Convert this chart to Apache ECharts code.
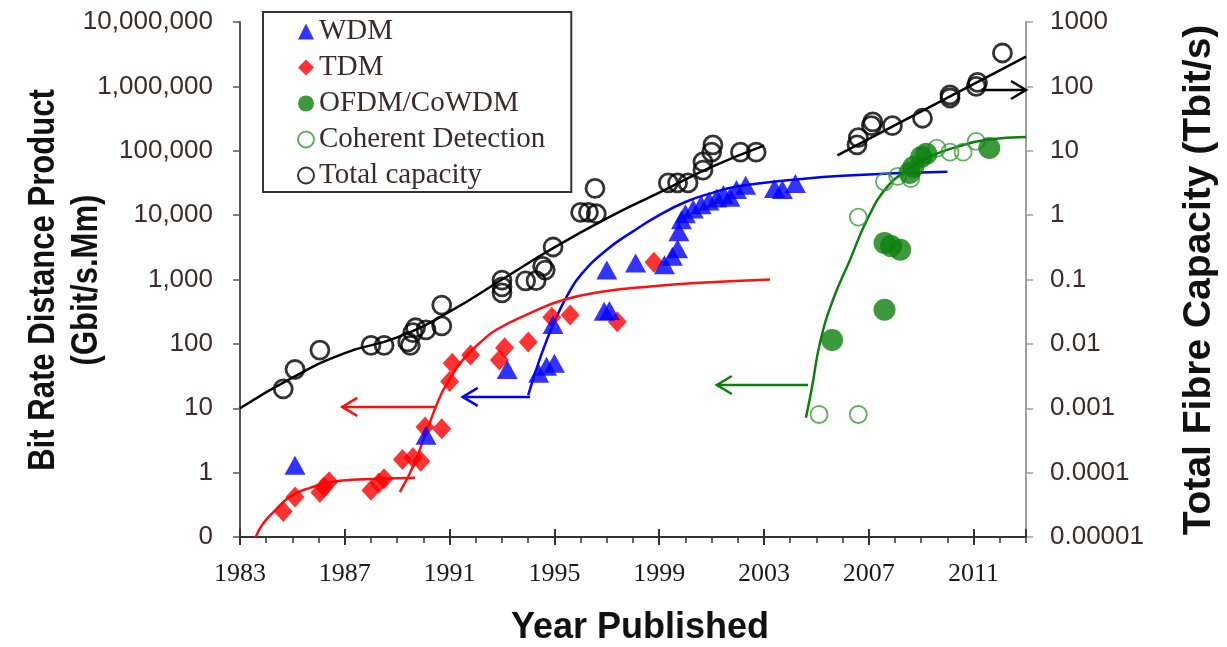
<!DOCTYPE html>
<html><head><meta charset="utf-8">
<script src="https://cdn.jsdelivr.net/npm/echarts@6/dist/echarts.min.js"></script>
<style>html,body{margin:0;padding:0;background:#fff}#chart{width:1227px;height:647px}</style>
</head><body><div id="chart"></div>
<script>
// ---- tick labels ----
const xTickLabels = ['1983','1987','1991','1995','1999','2003','2007','2011'];
const leftTickLabels = ['0','1','10','100','1,000','10,000','100,000','1,000,000','10,000,000'];
const rightTickLabels = ['0.00001','0.0001','0.001','0.01','0.1','1','10','100','1000'];

// ---- data: [year, Gbit/s.Mm] (left axis) ----
const wdm = [[1985.1,1.3],[1990.1,3.8],[1993.2,40],[1994.4,35],[1994.7,45],[1995.0,50],[1994.95,200],
  [1996.9,320],[1997.1,330],[1997.0,1400],[1998.1,1800],[1999.2,1700],[1999.5,2300],[1999.7,3000],
  [1999.75,5500],[1999.85,8500],[2000.0,10500],[2000.3,12500],[2000.6,14500],[2000.9,16500],
  [2001.2,18500],[2001.45,21000],[2001.7,19000],[2001.95,25000],[2002.3,29000],[2003.4,26000],
  [2003.7,25000],[2004.2,31000]];
const tdm = [[1984.65,0.25],[1985.1,0.42],[1986.05,0.49],[1986.2,0.6],[1986.4,0.72],[1988.0,0.53],
  [1988.3,0.69],[1988.5,0.8],[1989.2,1.6],[1989.6,1.7],[1989.9,1.5],[1990.06,5.1],[1990.7,4.8],
  [1991.0,26],[1991.1,50],[1991.8,67],[1992.9,56],[1993.1,87],[1994.0,107],[1994.9,260],
  [1995.6,280],[1997.4,220],[1998.8,1850]];
const ofdm = [[2005.6,115],[2007.6,340],[2007.6,3700],[2007.85,3300],[2008.2,2900],[2008.55,45000],
  [2008.7,56000],[2009.0,80000],[2009.2,90000],[2011.6,110000]];
const coherent = [[2005.1,8],[2006.6,8],[2006.6,9300],[2007.6,33000],[2008.1,40000],[2008.6,37000],
  [2009.6,110000],[2010.1,95000],[2010.6,95000],[2011.1,140000]];
const totalLeft = [[1984.65,20],[1985.1,40],[1986.05,80],[1988.0,95],[1988.5,95],[1989.4,107],
  [1989.5,95],[1989.7,178],[1989.6,150],[1990.1,165],[1990.7,190],[1990.7,400],[1993.0,620],
  [1993.0,770],[1993.0,980],[1993.9,950],[1994.3,960],[1994.55,1600],[1994.65,1400],[1994.95,3200],
  [1996.0,11000],[1996.3,11000],[1996.6,10500],[1996.55,26000],[1999.35,31600],[1999.7,31600],
  [2000.1,31600],[2000.67,50000],[2000.67,67000],[2001.0,95000],[2001.05,123000],[2002.1,95000],
  [2002.7,95000]];
// ---- data: [year, Tbit/s] (right axis) ----
const totalRight = [[2006.55,12.3],[2006.6,16],[2007.1,24.5],[2007.15,28],[2007.9,24.5],[2009.05,32],
  [2010.1,66],[2010.1,74],[2011.1,100],[2011.15,115],[2012.1,330]];

// ---- trend lines ----
const totalFitLeft = [[1983,10],[1985,30],[1987,72],[1989,126],[1991,316],[1993,1000],[1995,3160],
  [1997,8900],[1999,22400],[2001,56000],[2003,120000]];
const totalFitRight = [[2005.8,8.5],[2013.0,290]];
const wdmFit = [[1994.0,16],[1994.5,68],[1995.0,220],[1995.5,570],[1996,1170],[1997,2900],[1998,5600],
  [1999,10000],[2000,16000],[2001,22000],[2002,28000],[2004,35000],[2006,41000],[2010,47000]];
const tdmFit1 = [[1983.6,0.1],[1983.85,0.155],[1984.26,0.24],[1984.9,0.42],[1985.67,0.58],[1986.8,0.75],
  [1988.34,0.8],[1989.68,0.83]];
const tdmFit2 = [[1989.1,0.5],[1989.6,1.23],[1990.14,4.6],[1990.63,15],[1991.0,28],[1991.5,56],
  [1992.16,104],[1992.8,167],[1994.07,300],[1995.33,480],[1996.74,640],[1998.65,780],[2000.56,890],[2003.23,1000]];
const ofdmFit = [[2004.6,7.1],[2004.83,21],[2005.14,105],[2005.63,480],[2006.28,2000],[2006.93,8400],
  [2007.7,27500],[2008.46,50000],[2009.3,80000],[2010.37,115000],[2011.5,148000],[2013.0,163000]];
// arrows: [fromYear, toYear, value]
const redArrow = [1990.45, 1986.9, 10.5];
const blueArrow = [1994.07, 1991.5, 15];
const greenArrow = [2004.68, 2001.2, 23];
const blackArrow = [2011.3, 2013.0, 88];

const SANS = '"Liberation Sans", Arial, sans-serif';
const SERIF = '"Liberation Serif", "Times New Roman", serif';

function renderArrow(params, api) {
  const p1 = api.coord([api.value(0), api.value(2)]);
  const p2 = api.coord([api.value(1), api.value(2)]);
  const dir = p2[0] > p1[0] ? 1 : -1;
  const hl = 15, hw = 9;
  const color = api.visual('color');
  return {type:'group', children:[
    {type:'line', shape:{x1:p1[0],y1:p1[1],x2:p2[0],y2:p2[1]}, style:{stroke:color,lineWidth:2.5}},
    {type:'polyline', shape:{points:[[p2[0]-dir*hl,p2[1]-hw],[p2[0],p2[1]],[p2[0]-dir*hl,p2[1]+hw]]},
      style:{stroke:color,lineWidth:2.5,fill:null}}
  ]};
}

function fitLine(name, data, color, yIdx) {
  return {name:name, type:'line', data:data, yAxisIndex:yIdx||0, smooth:true, symbol:'none',
    lineStyle:{color:color, width:2.5}, itemStyle:{color:color}, z:2, silent:true};
}

const chart = echarts.init(document.getElementById('chart'), null, {renderer:'canvas'});
const xBase = {type:'value', min:1983, max:2013, position:'bottom', splitLine:{show:false}};
chart.setOption({
  animation:false,
  backgroundColor:'#fff',
  grid:{left:240, right:201, top:22, bottom:110, containLabel:false},
  xAxis:[
    Object.assign({}, xBase, {interval:4,
      axisLine:{show:true, lineStyle:{color:'#333', width:2}},
      axisTick:{show:true, length:8, lineStyle:{color:'#333', width:2}},
      axisLabel:{show:true, margin:24, fontFamily:SERIF, fontSize:26, color:'#1a1a1a', showMaxLabel:false,
        formatter:function(v){const s=String(Math.round(v));return xTickLabels.indexOf(s)>=0?s:'';}}}),
    Object.assign({}, xBase, {interval:1, axisLine:{show:false}, axisLabel:{show:false},
      axisTick:{show:true, length:6, lineStyle:{color:'#333', width:1.5}}}),
    Object.assign({}, xBase, {interval:4, axisLine:{show:false}, axisLabel:{show:false},
      axisTick:{show:true, inside:true, length:8, lineStyle:{color:'#333', width:2}}})
  ],
  yAxis:[
    {type:'log', logBase:10, min:0.1, max:1e7, splitNumber:8, position:'left', splitLine:{show:false},
      axisLine:{show:true, lineStyle:{color:'#555', width:2}},
      axisTick:{show:true, length:7, lineStyle:{color:'#555', width:1.5}},
      axisLabel:{margin:27, fontFamily:SANS, fontSize:26, color:'#3a2c2c',
        formatter:function(v){return leftTickLabels[Math.round(Math.log10(v))+1] || '';}}},
    {type:'log', logBase:10, min:1e-5, max:1000, splitNumber:8, position:'right', splitLine:{show:false},
      axisLine:{show:true, lineStyle:{color:'#a0a0a0', width:2}},
      axisTick:{show:true, length:7, lineStyle:{color:'#a0a0a0', width:1.5}},
      axisLabel:{margin:24, fontFamily:SANS, fontSize:26, color:'#3a2c2c',
        formatter:function(v){return rightTickLabels[Math.round(Math.log10(v))+5] || '';}}}
  ],
  legend:{
    data:['WDM','TDM','OFDM/CoWDM','Coherent Detection','Total capacity'],
    orient:'vertical', left:263, top:12, itemGap:7, itemWidth:16, itemHeight:16,
    padding:[5,26,2,34], borderColor:'#333', borderWidth:2, backgroundColor:'#fff',
    textStyle:{fontFamily:SERIF, fontSize:29, color:'#3b2b2b'}, selectedMode:false
  },
  graphic:[
    {type:'text', x:44, y:280, rotation:Math.PI/2, scaleX:0.84, z:10,
      style:{text:'Bit Rate Distance Product', font:'bold 37px '+SANS, fill:'#111',
        align:'center', verticalAlign:'middle', textAlign:'center', textVerticalAlign:'middle'}},
    {type:'text', x:87, y:280, rotation:Math.PI/2, scaleX:0.84, z:10,
      style:{text:'(Gbit/s.Mm)', font:'bold 37px '+SANS, fill:'#111',
        align:'center', verticalAlign:'middle', textAlign:'center', textVerticalAlign:'middle'}},
    {type:'text', x:1199, y:280, rotation:Math.PI/2, z:10,
      style:{text:'Total Fibre Capacity (Tbit/s)', font:'bold 39px '+SANS, fill:'#111',
        align:'center', verticalAlign:'middle', textAlign:'center', textVerticalAlign:'middle'}},
    {type:'text', x:640, y:628, z:10,
      style:{text:'Year Published', font:'bold 36px '+SANS, fill:'#111',
        align:'center', verticalAlign:'middle', textAlign:'center', textVerticalAlign:'middle'}}
  ],
  series:[
    fitLine('Total fit', totalFitLeft, '#000', 0),
    fitLine('Total fit right', totalFitRight, '#000', 1),
    fitLine('WDM fit', wdmFit, '#0000ff', 0),
    fitLine('TDM fit 1', tdmFit1, '#ff1010', 0),
    fitLine('TDM fit 2', tdmFit2, '#ff1010', 0),
    fitLine('OFDM fit', ofdmFit, '#0a7f0a', 0),
    {name:'arrows', type:'custom', yAxisIndex:0, renderItem:renderArrow, encode:{x:[0,1], y:2}, silent:true, z:2,
      data:[{value:redArrow, itemStyle:{color:'#ff1010'}},{value:blueArrow, itemStyle:{color:'#0000ff'}},
            {value:greenArrow, itemStyle:{color:'#0a7f0a'}}]},
    {name:'arrowRight', type:'custom', yAxisIndex:1, renderItem:renderArrow, encode:{x:[0,1], y:2}, silent:true, z:2,
      data:[{value:blackArrow, itemStyle:{color:'#000'}}]},
    {name:'Total capacity', type:'scatter', data:totalLeft, yAxisIndex:0, symbol:'circle', symbolSize:18, z:3,
      itemStyle:{color:'rgba(255,255,255,0)', borderColor:'#000', borderWidth:2.8}},
    {name:'Total capacity', type:'scatter', data:totalRight, yAxisIndex:1, symbol:'circle', symbolSize:18, z:3,
      itemStyle:{color:'rgba(255,255,255,0)', borderColor:'#000', borderWidth:2.8}},
    {name:'Coherent Detection', type:'scatter', data:coherent, symbol:'circle', symbolSize:17, z:4,
      itemStyle:{color:'rgba(255,255,255,0)', borderColor:'#3a9a3a', borderWidth:1.8}},
    {name:'OFDM/CoWDM', type:'scatter', data:ofdm, symbol:'circle', symbolSize:22, z:5,
      itemStyle:{color:'#0b800b'}},
    {name:'TDM', type:'scatter', data:tdm, symbol:'diamond', symbolSize:[19,21], z:5,
      itemStyle:{color:'#ff0000'}},
    {name:'WDM', type:'scatter', data:wdm, symbol:'triangle', symbolSize:[21,19], z:6,
      itemStyle:{color:'#0000ff'}}
  ]
});
</script></body></html>
